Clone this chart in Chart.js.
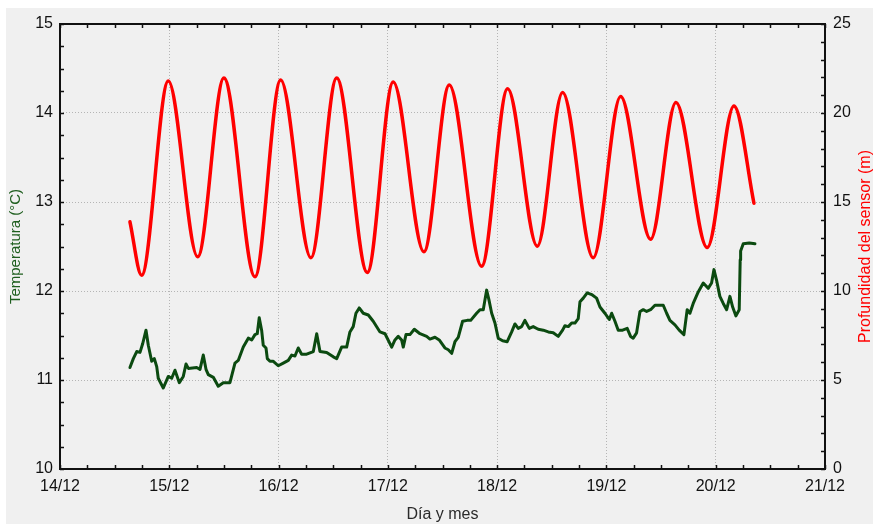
<!DOCTYPE html>
<html><head><meta charset="utf-8">
<script src="https://cdn.jsdelivr.net/npm/chart.js@4"></script>
<style>html,body{margin:0;padding:0;background:#fff}#wrap{width:873px;height:524px}</style>
</head><body><div id="wrap"><canvas id="c" width="873" height="524"></canvas></div>
<script>
// X axis: day of December (14.0 = 14/12 00:00)
const xTickLabels = ['14/12','15/12','16/12','17/12','18/12','19/12','20/12','21/12'];

// Temperature series (left axis, °C)
const tempDays = [
14.640,14.671,14.702,14.732,14.757,14.787,14.808,14.839,14.863,14.885,14.899,14.945,
14.991,15.022,15.052,15.092,15.128,15.153,15.174,15.251,15.281,15.311,15.336,15.357,
15.403,15.448,15.494,15.555,15.601,15.631,15.677,15.723,15.754,15.784,15.805,15.823,
15.845,15.860,15.885,15.897,15.921,15.952,15.997,16.043,16.089,16.120,16.150,16.180,
16.211,16.257,16.318,16.349,16.379,16.440,16.501,16.532,16.577,16.623,16.653,16.683,
16.708,16.738,16.775,16.821,16.866,16.928,16.974,17.035,17.065,17.095,17.126,17.141,
17.166,17.202,17.242,17.294,17.355,17.385,17.431,17.470,17.522,17.553,17.584,17.614,
17.644,17.684,17.726,17.758,17.812,17.843,17.873,17.904,17.925,17.950,17.980,18.010,
18.050,18.092,18.133,18.163,18.193,18.224,18.254,18.294,18.330,18.376,18.422,18.468,
18.513,18.559,18.599,18.620,18.651,18.682,18.712,18.742,18.758,18.788,18.824,18.865,
18.910,18.941,18.986,19.026,19.048,19.078,19.108,19.148,19.190,19.221,19.245,19.276,
19.307,19.337,19.368,19.404,19.444,19.520,19.551,19.581,19.627,19.666,19.709,19.739,
19.764,19.794,19.840,19.886,19.931,19.962,19.984,20.008,20.038,20.069,20.100,20.130,
20.155,20.185,20.215,20.224,20.228,20.252,20.307,20.359];
const tempValues = [
11.14,11.24,11.32,11.31,11.41,11.56,11.39,11.21,11.24,11.15,11.02,10.91,
11.04,11.02,11.11,10.97,11.04,11.18,11.13,11.14,11.12,11.28,11.12,11.06,
11.03,10.93,10.97,10.97,11.19,11.22,11.37,11.47,11.45,11.51,11.52,11.70,
11.56,11.39,11.36,11.24,11.21,11.21,11.16,11.19,11.22,11.28,11.27,11.36,
11.29,11.29,11.32,11.52,11.32,11.31,11.26,11.24,11.37,11.37,11.54,11.60,
11.75,11.81,11.75,11.73,11.66,11.54,11.52,11.37,11.45,11.49,11.45,11.37,
11.51,11.51,11.57,11.52,11.49,11.46,11.48,11.45,11.36,11.34,11.30,11.43,
11.48,11.66,11.67,11.67,11.75,11.79,11.79,12.01,11.90,11.75,11.64,11.47,
11.44,11.43,11.54,11.63,11.58,11.60,11.67,11.58,11.60,11.57,11.56,11.54,
11.53,11.49,11.56,11.61,11.60,11.64,11.64,11.69,11.88,11.92,11.98,11.96,
11.92,11.82,11.75,11.68,11.75,11.66,11.56,11.56,11.58,11.49,11.47,11.53,
11.77,11.79,11.77,11.79,11.84,11.84,11.75,11.67,11.62,11.56,11.51,11.79,
11.75,11.86,11.99,12.09,12.03,12.09,12.24,12.12,11.94,11.86,11.79,11.94,
11.82,11.72,11.79,12.35,12.45,12.53,12.54,12.53];

// Sensor depth series (right axis, m)
const depthDays = [14.640,14.747,14.991,15.260,15.500,15.784,16.019,16.296,16.532,16.812,17.049,17.330,
17.562,17.858,18.096,18.367,18.599,18.879,19.130,19.404,19.636,19.922,20.167,20.350];
const depthValues = [13.89,10.89,21.80,11.92,21.97,10.80,21.85,11.87,21.97,11.04,21.74,12.20,
21.57,11.39,21.36,12.52,21.15,11.87,20.93,12.91,20.59,12.44,20.40,14.93];

const FONT = '"Liberation Sans", Arial, sans-serif';

const bgPlugin = {
  id: 'bg',
  beforeDraw(chart) {
    const ctx = chart.ctx;
    ctx.save();
    ctx.fillStyle = '#ffffff';
    ctx.fillRect(0, 0, chart.width, chart.height);
    ctx.fillStyle = '#f0f0f0';
    ctx.fillRect(6, 8, chart.width - 6, chart.height - 8);
    ctx.restore();
  }
};

const framePlugin = {
  id: 'frame',
  afterDraw(chart) {
    const {ctx, chartArea: a, scales} = chart;
    ctx.save();
    ctx.strokeStyle = '#111';
    ctx.lineWidth = 1.5;
    const x = scales.x, y = scales.y, y2 = scales.y2;
    ctx.beginPath();
    for (let v = x.min; v <= x.max + 1e-9; v += 0.25) {
      const px = Math.round(x.getPixelForValue(v)) + 0.5;
      ctx.moveTo(px, a.bottom); ctx.lineTo(px, a.bottom - 4);
      ctx.moveTo(px, a.top); ctx.lineTo(px, a.top + 4);
    }
    for (let v = y.min; v <= y.max + 1e-9; v += 0.25) {
      const py = Math.round(y.getPixelForValue(v)) + 0.5;
      ctx.moveTo(a.left, py); ctx.lineTo(a.left + 4, py);
    }
    for (let v = y2.min; v <= y2.max + 1e-9; v += 1) {
      const py = Math.round(y2.getPixelForValue(v)) + 0.5;
      ctx.moveTo(a.right, py); ctx.lineTo(a.right - 4, py);
    }
    ctx.stroke();
    ctx.lineWidth = 2;
    ctx.strokeRect(a.left, a.top, a.right - a.left, a.bottom - a.top);
    // right axis title (reads bottom to top)
    const t = y2.options.title;
    ctx.translate(866, (a.top + a.bottom) / 2);
    ctx.rotate(-Math.PI / 2);
    ctx.fillStyle = '#ff0000';
    ctx.font = '16px ' + FONT;
    ctx.textAlign = 'center';
    ctx.textBaseline = 'middle';
    ctx.fillText(t.text, 0, 0);
    ctx.restore();
  }
};

const gridCommon = { color: '#b5b5b5', lineWidth: 1, drawTicks: false };

new Chart(document.getElementById('c'), {
  type: 'line',
  data: {
    datasets: [
      {
        label: 'Temperatura',
        data: tempDays.map((d, i) => ({x: d, y: tempValues[i]})),
        yAxisID: 'y',
        borderColor: '#0b4a10',
        borderWidth: 3,
        pointRadius: 0,
        tension: 0,
        borderJoinStyle: 'round',
        borderCapStyle: 'round'
      },
      {
        label: 'Profundidad',
        data: depthDays.map((d, i) => ({x: d, y: depthValues[i]})),
        yAxisID: 'y2',
        borderColor: '#ff0000',
        borderWidth: 3.5,
        pointRadius: 0,
        cubicInterpolationMode: 'monotone',
        borderCapStyle: 'round'
      }
    ]
  },
  options: {
    responsive: false,
    animation: false,
    devicePixelRatio: 1,
    layout: { padding: { top: 24, left: 0, right: 0, bottom: 0 } },
    plugins: { legend: { display: false }, tooltip: { enabled: false } },
    scales: {
      x: {
        type: 'linear', position: 'bottom', min: 14, max: 21,
        afterFit(s) { s.height = 55; },
        ticks: {
          stepSize: 1, padding: 8, color: '#111',
          font: { family: FONT, size: 16 },
          callback: v => xTickLabels[Math.round(v - 14)]
        },
        grid: gridCommon,
        border: { display: false, dash: [1, 2] },
        title: { display: true, text: 'Día y mes', color: '#2a2a2a', font: { family: FONT, size: 16 }, padding: { top: 0, bottom: 0 } }
      },
      y: {
        position: 'left', min: 10, max: 15,
        afterFit(s) { s.width = 60; },
        ticks: { stepSize: 1, padding: 7, color: '#111', font: { family: FONT, size: 16 } },
        grid: gridCommon,
        border: { display: false, dash: [1, 2] },
        title: { display: true, text: 'Temperatura (°C)', color: '#1e5e1e', font: { family: FONT, size: 15 }, padding: { top: 7, bottom: 0 } }
      },
      y2: {
        position: 'right', min: 0, max: 25,
        afterFit(s) { s.width = 48; },
        ticks: { stepSize: 5, padding: 8, color: '#111', font: { family: FONT, size: 16 } },
        grid: { display: false, drawTicks: false },
        border: { display: false },
        title: { display: false, text: 'Profundidad del sensor (m)' }
      }
    }
  },
  plugins: [bgPlugin, framePlugin]
});
</script>
</body></html>
